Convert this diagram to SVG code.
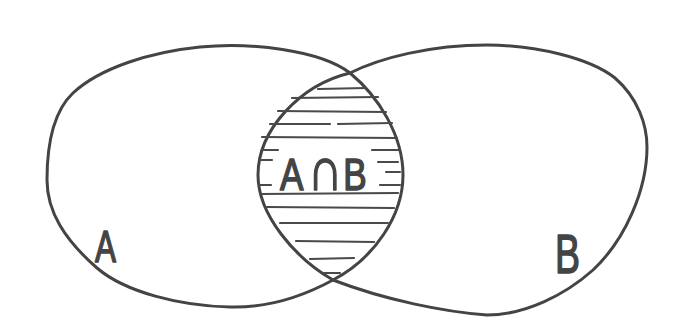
<svg xmlns="http://www.w3.org/2000/svg" width="696" height="336" viewBox="0 0 696 336">
<style>
.outline{fill:none;stroke:#444;stroke-width:3;stroke-linejoin:round;stroke-linecap:round}
.hatch{fill:none;stroke:#4a4a4a;stroke-width:2.2;stroke-linecap:round}
.lbl{font-family:"Liberation Sans",Arial,sans-serif;fill:#444;stroke:#444;stroke-width:1.6;stroke-linejoin:round}
</style>
<rect width="696" height="336" fill="#fff"/>
<g id="setA">
<path class="outline" d="M350,73 C378,96 403,135 403,175 C403,215 375,258 333,280 C300,298 265,308 230,307 C180,306 125,292 97,268 C65,240 47,212 47,180 C47,140 55,110 73,93 C100,68 150,52 200,47 C250,42 320,50 350,73 Z"/>
<text class="lbl" x="95" y="262" font-size="44" textLength="21" lengthAdjust="spacingAndGlyphs">A</text>
</g>
<g id="setB">
<path class="outline" d="M350,73 C380,58 430,45 487,45 C535,45 590,58 615,78 C638,98 647,125 647,147 C647,190 625,240 593,270 C565,295 525,315 487,315 C445,312 385,300 333,280 C295,258 258,215 258,175 C258,130 300,85 350,73 Z"/>
<text class="lbl" x="555" y="273" font-size="55" textLength="25" lengthAdjust="spacingAndGlyphs">B</text>
</g>
<g id="intersection">
<g class="hatch">
<path d="M318,89 L366,88"/>
<path d="M292,98 L378,97"/>
<path d="M278,111 L386,112"/>
<path d="M270,124 L330,124 M338,124 L392,123"/>
<path d="M262,137 L397,138"/>
<path d="M262,150 L278,150 M372,150 L400,150"/>
<path d="M260,160 L272,160 M378,162 L398,162"/>
<path d="M386,172 L400,172"/>
<path d="M259,185 L271,185 M380,185 L400,185"/>
<path d="M260,194 L398,193"/>
<path d="M266,207 L394,208"/>
<path d="M280,223 L388,223"/>
<path d="M296,241 L374,242"/>
<path d="M310,259 L354,258"/>
<path d="M323,273 L340,273"/>
</g>
<text class="lbl" transform="translate(280,190) scale(0.78,1)" font-size="45"><tspan x="0">A</tspan><tspan x="36" font-size="62">∩</tspan><tspan x="81">B</tspan></text>
</g>
</svg>
